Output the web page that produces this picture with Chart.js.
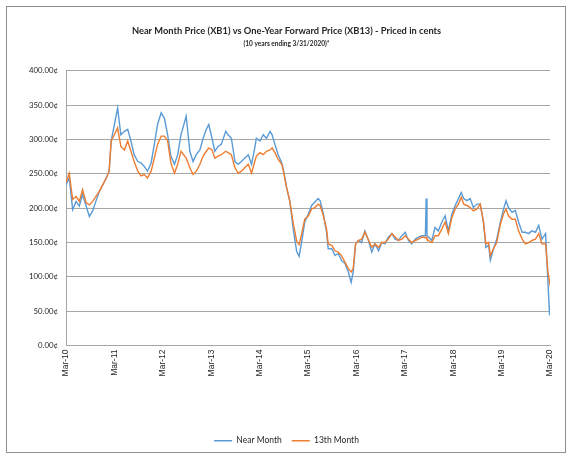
<!DOCTYPE html>
<html>
<head>
<meta charset="utf-8">
<script src="https://cdn.jsdelivr.net/npm/chart.js@4.4.1/dist/chart.umd.min.js"></script>
<style>
  html, body { margin: 0; padding: 0; background: #fff; }
  #wrap { position: relative; width: 573px; height: 459px; }
</style>
</head>
<body>
<div id="wrap"><canvas id="priceChart"></canvas></div>
<script>
// months since Mar-2010
const months = [
  0, 0.8, 1.65, 2.5, 3.3, 4.1, 5.0, 5.8, 6.6, 7.4, 8.3, 9.1, 9.9, 10.7, 11.2, 12.0, 12.8, 13.6, 14.5, 15.3,
  16.1, 16.9, 17.8, 18.6, 19.4, 20.2, 21.1, 21.9, 22.7, 23.6, 24.4, 25.2, 26.0, 26.9, 27.7, 28.5,
  29.8, 30.7, 31.5, 32.3, 33.2, 34.0, 34.8, 35.4, 36.2, 36.9, 37.7, 38.5, 39.6, 40.2, 41.0, 41.9,
  42.7, 43.5, 44.3, 45.2, 46.0, 46.8, 47.2, 48.1, 48.9, 49.7, 50.6, 51.1, 51.8, 52.6, 53.5, 53.9,
  54.7, 55.5, 56.4, 57.2, 57.8,
  58.4, 59.2, 60.1, 60.9, 61.7, 62.5, 63.0, 63.8, 64.6, 65.0, 65.9, 66.7, 67.5, 68.3, 69.2, 70.0,
  70.7, 71.2, 71.8, 72.5, 73.3, 74.1, 74.9, 75.8, 76.6, 77.5, 78.3, 79.1, 79.9, 80.8, 81.6, 82.4,
  83.3, 84.1, 84.9, 85.7, 86.6, 87.4,
  88.2, 89.1, 89.3, 89.5, 89.9, 90.7, 91.5, 92.3, 93.2, 94.0, 94.8, 95.7, 96.5, 97.3, 98.0, 98.6,
  99.4, 100.2, 101.0, 101.9, 102.7, 103.5, 104.1, 104.8, 105.2, 106.0, 106.8, 107.7, 108.5, 109.1,
  109.7, 110.6, 111.4, 112.2, 113.1, 113.9, 114.7, 115.5, 116.4, 117.2, 118.0, 118.9, 119.5, 119.9, 120
];

// Near Month (XB1), cents
const nearMonth = [
  234, 244, 198, 210, 203, 220, 203, 188, 196, 210, 225, 234, 243, 254, 298, 322, 346, 307, 312, 315,
  298, 278, 268, 266, 261, 254, 266, 293, 322, 339, 331, 307, 276, 264, 278, 307,
  334, 283, 268, 278, 285, 302, 315, 322, 302, 283, 290, 293, 312, 307, 302, 268,
  264, 268, 273, 278, 264, 288, 302, 298, 307, 302, 312, 307, 293, 278, 266, 256,
  230, 210, 167, 137, 130,
  150, 180, 192, 204, 209, 214, 211, 192, 165, 141, 141, 131, 134, 124, 119, 107,
  92, 107, 148, 153, 150, 167, 155, 136, 148, 138, 150, 148, 158, 163, 155, 153,
  160, 165, 153, 148, 155, 158,
  160, 160, 214, 160, 158, 153, 172, 167, 180, 189, 167, 192, 204, 214, 223, 214,
  211, 214, 201, 206, 206, 180, 143, 146, 124, 141, 155, 180, 199, 211,
  201, 194, 197, 180, 165, 165, 163, 167, 165, 175, 155, 163, 92, 44, 58
];

// 13th Month (XB13), cents
const thirteenthMonth = [
  237, 251, 213, 217, 210, 227, 208, 205, 210, 217, 225, 234, 243, 254, 298, 307, 317, 290, 285, 298,
  283, 268, 254, 247, 249, 244, 254, 273, 293, 305, 305, 298, 266, 251, 264, 283,
  273, 259, 249, 254, 264, 276, 283, 288, 285, 273, 276, 278, 283, 281, 278, 259,
  251, 254, 259, 264, 251, 268, 276, 281, 278, 283, 285, 288, 281, 271, 264, 254,
  230, 210, 176, 152, 147,
  162, 184, 189, 199, 201, 206, 204, 189, 170, 148, 146, 138, 136, 131, 121, 112,
  107, 112, 148, 153, 155, 165, 155, 143, 148, 143, 150, 150, 155, 163, 158, 153,
  155, 160, 155, 150, 153, 155,
  158, 157, 158, 155, 153, 150, 160, 160, 170, 180, 163, 187, 199, 206, 216, 206,
  204, 201, 196, 199, 206, 180, 148, 150, 131, 141, 150, 177, 192, 199,
  189, 184, 184, 167, 155, 148, 150, 153, 155, 163, 148, 148, 107, 92, 97
];

const tickLabels = ['Mar-10', 'Mar-11', 'Mar-12', 'Mar-13', 'Mar-14', 'Mar-15',
                    'Mar-16', 'Mar-17', 'Mar-18', 'Mar-19', 'Mar-20'];

const toPoints = (vals) => vals.map((v, i) => ({ x: months[i], y: v }));

// thin grey frame round the whole chart, like the spreadsheet chart border
const frame = {
  id: 'frame',
  beforeDraw(chart) {
    const ctx = chart.ctx;
    ctx.save();
    ctx.fillStyle = '#fff';
    ctx.fillRect(0, 0, chart.width, chart.height);
    ctx.strokeStyle = '#8e8e8e';
    ctx.lineWidth = 1;
    ctx.strokeRect(6.5, 6.5, 559, 446);
    ctx.restore();
  }
};

const gridGrey = '#a6a6a6';
const textCol = '#262626';

new Chart(document.getElementById('priceChart'), {
  type: 'line',
  data: {
    datasets: [
      {
        label: 'Near Month',
        data: toPoints(nearMonth),
        borderColor: '#5b9bd5',
        backgroundColor: '#5b9bd5',
        borderWidth: 1.4,
        pointRadius: 0,
        tension: 0,
        order: 1
      },
      {
        label: '13th Month',
        data: toPoints(thirteenthMonth),
        borderColor: '#ed7d31',
        backgroundColor: '#ed7d31',
        borderWidth: 1.4,
        pointRadius: 0,
        tension: 0,
        order: 0
      }
    ]
  },
  options: {
    responsive: true,
    maintainAspectRatio: false,
    animation: false,
    layout: { padding: { top: 0, left: 23, right: 23, bottom: 4 } },
    plugins: {
      title: {
        display: true,
        text: 'Near Month Price (XB1) vs One-Year Forward Price (XB13) - Priced in cents',
        color: textCol,
        font: { family: 'Lato', size: 9.3, weight: 'bold' },
        padding: { top: 25, bottom: 0 }
      },
      subtitle: {
        display: true,
        text: '(10 years ending 3/31/2020)*',
        color: textCol,
        font: { family: 'Lato', size: 6.5, weight: 'bold' },
        padding: { top: 4, bottom: 23 }
      },
      legend: {
        position: 'bottom',
        labels: {
          usePointStyle: true,
          pointStyle: 'line',
          pointStyleWidth: 18,
          color: textCol,
          font: { family: 'Lato', size: 8.5 },
          padding: 10,
          sort: (a, b) => a.datasetIndex - b.datasetIndex
        }
      },
      tooltip: { enabled: false }
    },
    scales: {
      x: {
        type: 'linear',
        min: 0,
        max: 120,
        afterBuildTicks: (scale) => {
          scale.ticks = tickLabels.map((t, i) => ({ value: i * 12 }));
        },
        afterFit: (scale) => { scale.height = 81; },
        grid: { display: false, drawTicks: false },
        border: { display: true, color: gridGrey, width: 1 },
        ticks: {
          autoSkip: false,
          minRotation: 90,
          maxRotation: 90,
          padding: 4,
          color: textCol,
          font: { family: 'Liberation Sans', size: 8.5 },
          callback: (v) => tickLabels[Math.round(v / 12)]
        }
      },
      y: {
        min: 0,
        max: 400,
        afterFit: (scale) => { scale.width = 43; },
        grid: { color: gridGrey, lineWidth: 1, drawTicks: false },
        border: { display: true, color: gridGrey, width: 1 },
        ticks: {
          stepSize: 50,
          padding: 8,
          color: textCol,
          font: { family: 'Lato', size: 7.8 },
          callback: (v) => v.toFixed(2) + '\u00a2'
        }
      }
    }
  },
  plugins: [frame]
});
</script>
</body>
</html>
